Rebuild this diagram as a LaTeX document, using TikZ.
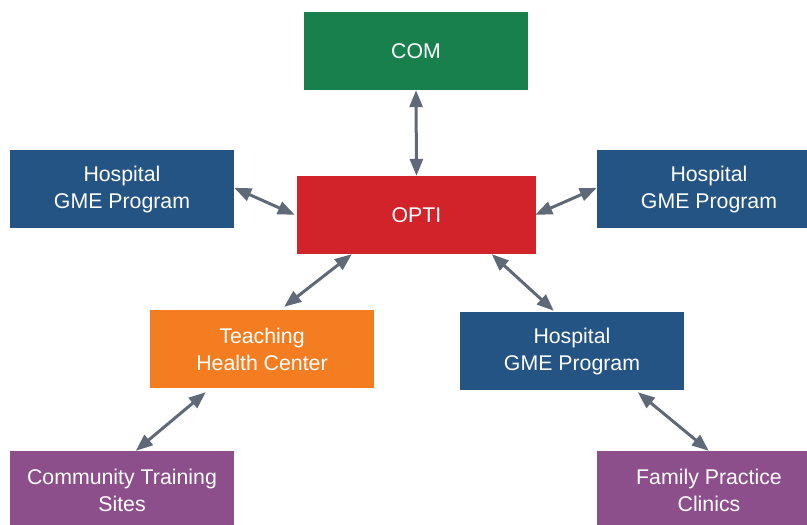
\documentclass[tikz,border=0pt]{standalone}
\usepackage{fontspec}
\setmainfont{Liberation Sans}
\usetikzlibrary{arrows.meta,calc}
\definecolor{comgreen}{HTML}{17804C}
\definecolor{optired}{HTML}{D2232A}
\definecolor{gmeblue}{HTML}{245484}
\definecolor{thcorange}{HTML}{F47D21}
\definecolor{sitepurple}{HTML}{8C4F8B}
\definecolor{linkgray}{HTML}{5F6978}
\tikzset{
  unitbox/.style={rectangle, inner sep=0pt, minimum width=224pt, minimum height=78pt,
    text=white, align=center, font=\fontsize{21.3}{27}\selectfont},
  link/.style={draw=linkgray, line width=3pt,
    {Triangle[length=17pt,width=13pt]}-{Triangle[length=17pt,width=13pt]}}
}
\begin{document}
\begin{tikzpicture}[x=1pt,y=-1pt]
\useasboundingbox (0,0) rectangle (807,525);
\begin{scope}
\clip (0,0) rectangle (807,525);
\node[unitbox, fill=comgreen] (com) at (416,51) {COM};
\node[unitbox, fill=optired, minimum width=239pt] (opti) at (416.5,215) {OPTI};
\node[unitbox, fill=gmeblue] (hl) at (122,189) {Hospital\\GME Program};
\node[unitbox, fill=gmeblue] (hr) at (709,189) {Hospital\\GME Program};
\node[unitbox, fill=thcorange] (thc) at (262,349) {Teaching\\Health Center};
\node[unitbox, fill=gmeblue] (hm) at (572,351) {Hospital\\GME Program};
\node[unitbox, fill=sitepurple] (cts) at (122,490) {Community Training\\Sites};
\node[unitbox, fill=sitepurple] (fpc) at (709,490) {Family Practice\\Clinics};
\end{scope}
% connectors between the units
\draw[link] (com.south) -- (opti.north);
\draw[link] ($(hl.north east)+(0,38)$) -- ($(opti.north west)+(-2,39)$);
\draw[link] ($(hr.north west)+(0,38)$) -- ($(opti.north east)+(-1,39)$);
\draw[link] ($(opti.south west)+(55,0)$) -- ($(thc.north east)+(-90,-3)$);
\draw[link] ($(opti.south west)+(195,0)$) -- ($(hm.north west)+(94,-1)$);
\draw[link] ($(thc.south west)+(56,4)$) -- ($(cts.north west)+(126,0)$);
\draw[link] ($(hm.south west)+(178,2)$) -- ($(fpc.north west)+(112,0)$);
\end{tikzpicture}
\end{document}
